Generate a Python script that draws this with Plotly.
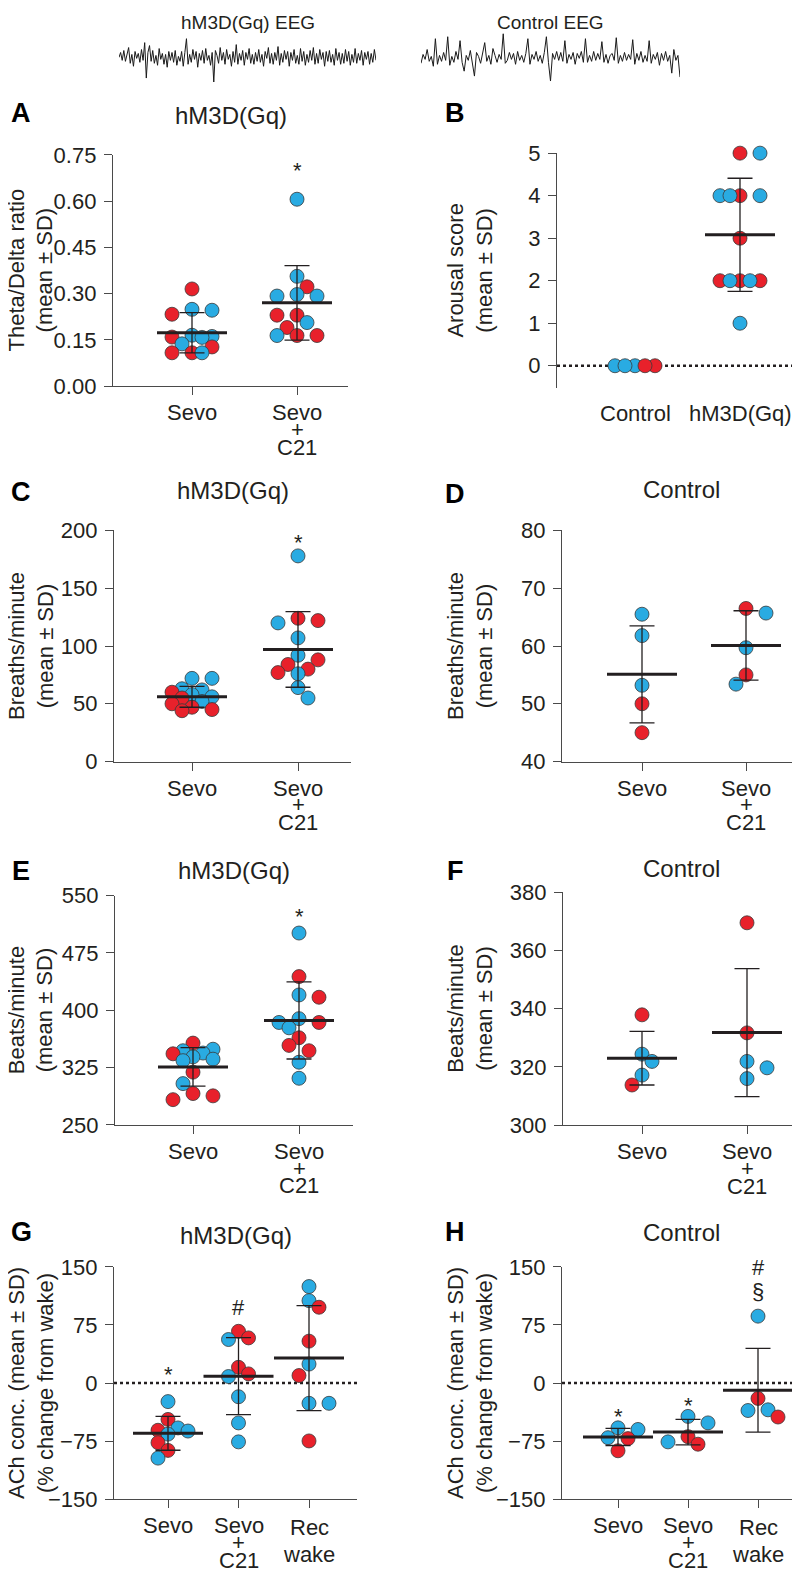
import math
import plotly.graph_objects as go

# ---------------- data ----------------
# EEG snippets (arbitrary units, up = positive)
eeg_hm3d = [0, 5, -3, 7, -4, 2, 10, -6, 3, -9, 6, -1, 4, -5, 8, -3, 15, -21, 5, 12, -4, 7, -6, 2, -8,
            9, -2, 4, -7, 3, -10, 6, -3, 5, -5, 7, -8, 1, -4, 6, -9, 5, 19, -7, 3, -5, 8, -2, 6, -10, 4,
            -3, 7, -6, 9, -3, 2, -8, 5, -25, 7, 2, -6, 10, -3, 5, -7, 8, -2, 3, -9, 6, -5, 13, -7, 4,
            -3, 7, -8, 5, -2, 9, -6, 3, -7, 5, -4, 8, -5, 3, -9, 6, -1, 10, -6, 4, -7, 5, -3, 11, -8,
            4, -5, 7, -2, 6, -9, 5, -3, 8, -6, 2, -7, 9, -4, 6, -8, 3, -5, 7, -3, 10, -7, 4, -6, 8, -2,
            5, -9, 6, -4, 7, -5, 3, -8, 9, -3, 5, -7, 4, -6, 8, -4, 6, -8, 3, -5, 9, -6, 4, -3, 7, -8,
            5, -2, 6, -7, 4, -5, 8, -3]
eeg_ctrl = [-6, 3, -2, 8, -4, 1, -9, 19, -7, 2, -4, 5, -3, 21, -8, 1, -5, 6, -2, 17, -5, -14, 2, -3,
            7, -4, -19, 5, 1, -6, 4, 15, -4, 2, -7, 9, 2, -5, 3, -2, 24, -6, -3, 5, -2, 4, -7, 6, -3,
            2, -5, 4, 19, -7, 3, -2, 6, -4, 2, -6, 5, 21, -5, -24, 4, -2, 6, -3, 5, -4, 17, -6, 3, -2,
            5, -7, 4, -1, 6, -5, 19, -5, 2, -4, 6, -3, 4, -2, 16, -5, 3, -6, 2, 4, -3, 20, -6, 2, -4,
            5, -3, 3, -2, 18, -7, 4, -3, 6, -5, 2, -4, 17, -6, 3, -2, 5, -8, 4, -3, 6, -4, 2, -16, 8,
            -3, 2, -20]

# A  theta/delta ratio, hM3D(Gq)
A_cats = [["Sevo"], ["Sevo", "+", "C21"]]
A_sevo = [0.315, 0.249, 0.246, 0.233, 0.165, 0.161, 0.159, 0.158, 0.137, 0.127, 0.108, 0.108, 0.108]
A_sevo_c = "rbbrbbrbbrrrb"
A_c21 = [0.606, 0.356, 0.322, 0.297, 0.292, 0.292, 0.230, 0.230, 0.206, 0.190, 0.164, 0.164, 0.164]
A_c21_c = "bbrbbbrrbrrrb"
A_mean = [0.173, 0.270]
A_sd = [0.065, 0.121]
A_ticks = [0.00, 0.15, 0.30, 0.45, 0.60, 0.75]
A_marks = [(1, 0.721, "*")]

# B  arousal score
B_cats = [["Control"], ["hM3D(Gq)"]]
B_ctrl = [0, 0, 0, 0, 0]
B_ctrl_c = "brbrb"
B_hm = [5, 5, 4, 4, 4, 4, 3, 2, 2, 2, 2, 2, 1]
B_hm_c = "rbrbbbrrrrbbb"
B_mean = [None, 3.08]
B_sd = [None, 1.33]
B_ticks = [0, 1, 2, 3, 4, 5]
B_marks = [(1, 5.58, "*")]

# C  breaths/minute, hM3D(Gq)
C_cats = [["Sevo"], ["Sevo", "+", "C21"]]
C_sevo = [72, 72, 63, 62, 60, 58, 56, 55, 52, 50, 47, 45, 44]
C_sevo_c = "bbbbrbbrbrrrr"
C_c21 = [178, 124, 122, 120, 107, 92, 88, 84, 80, 77, 76, 64, 55]
C_c21_c = "brrbbbrrrrbbb"
C_mean = [56.0, 97.0]
C_sd = [9.0, 32.7]
C_ticks = [0, 50, 100, 150, 200]
C_marks = [(1, 195.7, "*")]

# D  breaths/minute, control
D_cats = [["Sevo"], ["Sevo", "+", "C21"]]
D_sevo = [65.5, 61.8, 53.2, 50.0, 45.0]
D_sevo_c = "bbbrr"
D_c21 = [66.5, 65.7, 59.7, 55.0, 53.4]
D_c21_c = "rbbrb"
D_mean = [55.1, 60.1]
D_sd = [8.4, 6.0]
D_ticks = [40, 50, 60, 70, 80]
D_marks = []

# E  beats/minute, hM3D(Gq)
E_cats = [["Sevo"], ["Sevo", "+", "C21"]]
E_sevo = [357, 349, 347, 344, 343, 339, 336, 334, 319, 304, 291, 288, 283]
E_sevo_c = "rbbbrbbbrbrrr"
E_c21 = [501, 444, 420, 417, 389, 384, 384, 377, 364, 354, 347, 332, 311]
E_c21_c = "brbrbbrbrrrbb"
E_mean = [325.9, 386.7]
E_sd = [25.3, 50.5]
E_ticks = [250, 325, 400, 475, 550]
E_marks = [(1, 532, "*")]

# F  beats/minute, control
F_cats = [["Sevo"], ["Sevo", "+", "C21"]]
F_sevo = [337.9, 324.4, 321.9, 317.2, 313.8]
F_sevo_c = "rbbbr"
F_c21 = [369.5, 331.7, 321.9, 319.7, 316.0]
F_c21_c = "rrbbb"
F_mean = [323.0, 331.8]
F_sd = [9.2, 22.0]
F_ticks = [300, 320, 340, 360, 380]
F_marks = []

# G  ACh, hM3D(Gq)
G_cats = [["Sevo"], ["Sevo", "+", "C21"], ["Rec", "wake"]]
G_sevo = [-24, -47, -58, -61, -62, -66, -77, -87, -97]
G_sevo_c = "brbrbbrrb"
G_c21 = [66.8, 58.3, 56.2, 20.3, 11.8, 8.4, -17.7, -51.5, -76.0]
G_c21_c = "rrbrrbbbb"
G_rec = [124.6, 106.4, 97.9, 54.1, 24.5, 9.7, -26.2, -26.2, -74.8]
G_rec_c = "bbrrbrbbr"
G_mean = [-65.0, 8.9, 32.2]
G_sd = [21.8, 49.7, 67.8]
G_ticks = [-150, -75, 0, 75, 150]
G_marks = [(0, 20.3, "*"), (1, 99.2, "#"), (2, 152, "#")]

# H  ACh, control
H_cats = [["Sevo"], ["Sevo", "+", "C21"], ["Rec", "wake"]]
H_sevo = [-57.9, -60.0, -70.6, -71.8, -87.5]
H_sevo_c = "bbbrr"
H_c21 = [-43.1, -51.5, -69.3, -76.0, -79.0]
H_c21_c = "bbrbr"
H_rec = [86.4, -19.9, -34.6, -35.5, -43.9]
H_rec_c = "brbbr"
H_mean = [-69.7, -63.4, -9.3]
H_sd = [11.0, 16.5, 54.0]
H_ticks = [-150, -75, 0, 75, 150]
H_marks = [(0, -34.6, "*"), (1, -19.9, "*"), (2, 150, "#"), (2, 120, "§")]

# ---------------- styling / layout ----------------
# the page body keeps an 8px margin, so the figure starts 8px in from the corner
PAD = 8
W, H = 800 - PAD, 1584 - PAD
RED = "#e8212b"
BLUE = "#29abe2"
EDGE = "#3a3a3a"
INK = "#231f20"
AXC = "#4a4a4a"
FONT = "Liberation Sans, Arial, sans-serif"


def fx(p):
    return (p - PAD) / W


def fy(p):
    return 1 - (p - PAD) / H


panels = [
    dict(k="A", title="hM3D(Gq)", ytitle="Theta/Delta ratio<br>(mean ± SD)",
         groups=[A_sevo, A_c21], cols=[A_sevo_c, A_c21_c], mean=A_mean, sd=A_sd,
         ticks=A_ticks, fmt=".2f", marks=A_marks, cats=A_cats,
         left=113, right=348, top=145, bottom=380, cx=(192, 297), yr=(0, 0.75)),
    dict(k="B", title="", ytitle="Arousal score<br>(mean ± SD)",
         groups=[B_ctrl, B_hm], cols=[B_ctrl_c, B_hm_c], mean=B_mean, sd=B_sd,
         ticks=B_ticks, fmt="d", marks=B_marks, cats=B_cats,
         left=557, right=800, top=143.3, bottom=382, cx=(635, 740), yr=(-0.525, 5), zero=True),
    dict(k="C", title="hM3D(Gq)", ytitle="Breaths/minute<br>(mean ± SD)",
         groups=[C_sevo, C_c21], cols=[C_sevo_c, C_c21_c], mean=C_mean, sd=C_sd,
         ticks=C_ticks, fmt="d", marks=C_marks, cats=C_cats,
         left=114, right=351, top=526.7, bottom=761.5, cx=(192, 298), yr=(0, 200)),
    dict(k="D", title="Control", ytitle="Breaths/minute<br>(mean ± SD)",
         groups=[D_sevo, D_c21], cols=[D_sevo_c, D_c21_c], mean=D_mean, sd=D_sd,
         ticks=D_ticks, fmt="d", marks=D_marks, cats=D_cats,
         left=562, right=800, top=526.7, bottom=761.5, cx=(642, 746), yr=(40, 80)),
    dict(k="E", title="hM3D(Gq)", ytitle="Beats/minute<br>(mean ± SD)",
         groups=[E_sevo, E_c21], cols=[E_sevo_c, E_c21_c], mean=E_mean, sd=E_sd,
         ticks=E_ticks, fmt="d", marks=E_marks, cats=E_cats,
         left=115, right=353, top=897.7, bottom=1130.7, cx=(193, 299), yr=(250, 550)),
    dict(k="F", title="Control", ytitle="Beats/minute<br>(mean ± SD)",
         groups=[F_sevo, F_c21], cols=[F_sevo_c, F_c21_c], mean=F_mean, sd=F_sd,
         ticks=F_ticks, fmt="d", marks=F_marks, cats=F_cats,
         left=563, right=800, top=894.3, bottom=1131, cx=(642, 747), yr=(300, 380)),
    dict(k="G", title="hM3D(Gq)", ytitle="ACh conc. (mean ± SD)<br>(% change from wake)",
         groups=[G_sevo, G_c21, G_rec], cols=[G_sevo_c, G_c21_c, G_rec_c], mean=G_mean, sd=G_sd,
         ticks=G_ticks, fmt="d", marks=G_marks, cats=G_cats,
         left=114, right=357, top=1275, bottom=1511, cx=(168, 309), yr=(-150, 150), zero=True),
    dict(k="H", title="Control", ytitle="ACh conc. (mean ± SD)<br>(% change from wake)",
         groups=[H_sevo, H_c21, H_rec], cols=[H_sevo_c, H_c21_c, H_rec_c], mean=H_mean, sd=H_sd,
         ticks=H_ticks, fmt="d", marks=H_marks, cats=H_cats,
         left=562, right=800, top=1275, bottom=1511, cx=(618, 758), yr=(-150, 150), zero=True),
]

title_y = {"A": 105, "B": 102, "C": 486, "D": 485, "E": 872, "F": 870, "G": 1243, "H": 1240}
letter_y = {"A": 102, "B": 102, "C": 488, "D": 490, "E": 873, "F": 873, "G": 1240, "H": 1240}


def swarm(vals, ppy, ppx, step=10, dmin=12, maxoff=20):
    """simple beeswarm: pixel offsets avoiding overlap, returned in data units"""
    order = sorted(range(len(vals)), key=lambda i: -vals[i])
    placed = []
    offs = [0.0] * len(vals)
    for i in order:
        y = vals[i] * ppy
        bal = sum(p[0] for p in placed)
        cands = [0]
        k = 1
        while k * step <= maxoff:
            pair = [-k * step, k * step] if bal > 0 else [k * step, -k * step]
            cands += pair
            k += 1
        chosen, bestc, bestd = None, 0, -1
        for c in cands:
            d = min([math.hypot(c - px, y - py) for px, py in placed], default=1e9)
            if d >= dmin:
                chosen = c
                break
            if d > bestd + 1e-9:
                bestd, bestc = d, c
        if chosen is None:
            chosen = bestc
        offs[i] = chosen / ppx
        placed.append((chosen, y))
    return offs


fig = go.Figure()
layout = dict(width=W, height=H, margin=dict(l=0, r=0, t=0, b=0),
              paper_bgcolor="white", plot_bgcolor="white", showlegend=False,
              font=dict(family=FONT, color=INK, size=22))
annotations = []
shapes = []

for n, p in enumerate(panels, start=1):
    ncat = len(p["groups"])
    u = (p["cx"][1] - p["cx"][0]) / (ncat - 1)
    xr = [(p["left"] - p["cx"][0]) / u, (p["right"] - p["cx"][0]) / u]
    ppy = (p["bottom"] - p["top"]) / (p["yr"][1] - p["yr"][0])
    xa, ya = "x%d" % n, "y%d" % n
    is_b = p["k"] == "B"

    layout["xaxis%d" % n] = dict(
        domain=[fx(p["left"]), min(1.0, fx(p["right"]))], range=xr, anchor=ya,
        showline=not is_b, linecolor=AXC, linewidth=1.3,
        ticks="" if is_b else "outside", ticklen=8, tickwidth=1.3, tickcolor=AXC,
        tickvals=list(range(ncat)), showticklabels=False,
        showgrid=False, zeroline=False, fixedrange=True)
    layout["yaxis%d" % n] = dict(
        domain=[fy(p["bottom"]), fy(p["top"])], range=list(p["yr"]), anchor=xa,
        showline=True, linecolor=AXC, linewidth=1.3,
        ticks="outside", ticklen=8, tickwidth=1.3, tickcolor=AXC,
        tickvals=p["ticks"], tickformat=p["fmt"], ticklabelstandoff=3,
        tickfont=dict(size=22, color=INK, family=FONT),
        showgrid=False, zeroline=False, fixedrange=True)

    if p.get("zero"):
        shapes.append(dict(type="line", xref="%s domain" % xa, yref=ya, x0=0, x1=1, y0=0, y1=0,
                           line=dict(color=INK, width=2.5, dash="dot"), layer="below"))

    # points
    for ci, (vals, cols) in enumerate(zip(p["groups"], p["cols"])):
        offs = swarm(vals, ppy, u)
        fig.add_trace(go.Scatter(
            x=[ci + o for o in offs], y=vals, mode="markers", xaxis=xa, yaxis=ya,
            marker=dict(size=14, color=[RED if c == "r" else BLUE for c in cols],
                        line=dict(color=EDGE, width=0.8)),
            hoverinfo="y", cliponaxis=False))

    # mean +- SD
    mx = [i for i, m in enumerate(p["mean"]) if m is not None]
    fig.add_trace(go.Scatter(
        x=mx, y=[p["mean"][i] for i in mx], mode="markers", xaxis=xa, yaxis=ya,
        marker=dict(symbol="line-ew", size=50, color=INK, line=dict(color=INK, width=3)),
        error_y=dict(type="data", array=[p["sd"][i] for i in mx], visible=True,
                     width=12.5, thickness=1.3, color=INK),
        hoverinfo="skip", cliponaxis=False))

    # significance marks
    for ci, yv, sym in p["marks"]:
        annotations.append(dict(x=ci, y=yv, xref=xa, yref=ya, text=sym, showarrow=False,
                                xanchor="center", yanchor="middle",
                                font=dict(size=22, color=INK), yshift=-7 if sym == "*" else -1))

    # category labels
    for ci, lines in enumerate(p["cats"]):
        if len(lines) == 3:
            offsets = [27, 44, 62]
        elif len(lines) == 2:
            offsets = [29, 56]
        else:
            offsets = [27 if not is_b else 26]
        for line, off in zip(lines, offsets):
            annotations.append(dict(x=ci, y=fy(p["bottom"] + off), xref=xa, yref="paper",
                                    text=line, showarrow=False, xanchor="center",
                                    yanchor="middle", font=dict(size=22, color=INK)))

    # y title
    ycen = (p["top"] + p["bottom"]) / 2
    tx = 31 if p["left"] < 400 else 470
    annotations.append(dict(x=fx(tx), y=fy(ycen), xref="paper", yref="paper",
                            text=p["ytitle"], textangle=-90, showarrow=False,
                            xanchor="center", yanchor="middle",
                            font=dict(size=22, color=INK)))
    # panel title
    if p["title"]:
        annotations.append(dict(x=fx((p["left"] + p["right"]) / 2), y=fy(title_y[p["k"]]),
                                xref="paper", yref="paper", text=p["title"], showarrow=False,
                                xanchor="center", yanchor="middle",
                                font=dict(size=24, color=INK)))
    # panel letter
    lx = 21 if p["left"] < 400 else 455
    annotations.append(dict(x=fx(lx), y=fy(letter_y[p["k"]]), xref="paper", yref="paper",
                            text="<b>%s</b>" % p["k"], showarrow=False, xanchor="center",
                            yanchor="middle", font=dict(size=27, color="black")))

# EEG traces at the top
for n, (sig, x0, x1, lab) in enumerate([(eeg_hm3d, 119, 376, "hM3D(Gq) EEG"),
                                        (eeg_ctrl, 421, 680, "Control EEG")], start=9):
    layout["xaxis%d" % n] = dict(domain=[fx(x0), fx(x1)], range=[0, len(sig) - 1],
                                 visible=False, fixedrange=True, anchor="y%d" % n)
    layout["yaxis%d" % n] = dict(domain=[fy(74), fy(18)], range=[-28, 28],
                                 visible=False, fixedrange=True, anchor="x%d" % n)
    fig.add_trace(go.Scatter(x=list(range(len(sig))), y=sig, mode="lines",
                             xaxis="x%d" % n, yaxis="y%d" % n,
                             line=dict(color="#1a1a1a", width=1.0), hoverinfo="skip"))
    annotations.append(dict(x=fx((x0 + x1) / 2), y=fy(11), xref="paper", yref="paper",
                            text=lab, showarrow=False, xanchor="center", yanchor="middle",
                            font=dict(size=19, color=INK)))

layout["annotations"] = annotations
layout["shapes"] = shapes
fig.update_layout(**layout)
fig.write_html("out.html")
